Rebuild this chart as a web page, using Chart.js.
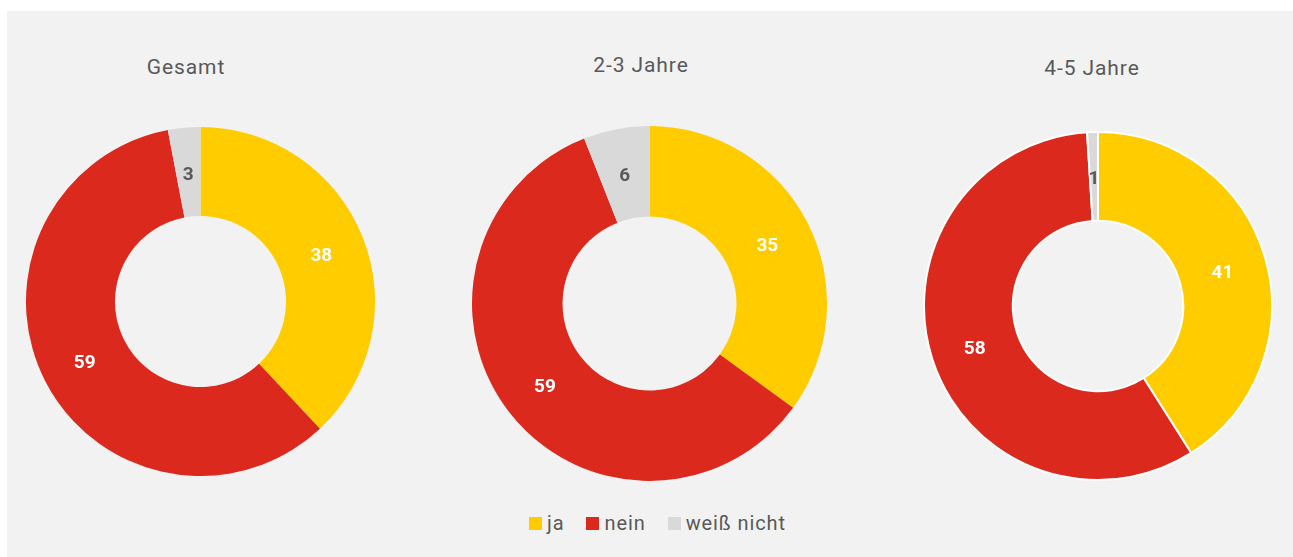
<!DOCTYPE html>
<html lang="de">
<head>
<meta charset="utf-8">
<script src="https://cdn.jsdelivr.net/npm/chart.js@4"></script>
<style>
  html, body { margin: 0; padding: 0; background: #fff; }
  body { width: 1293px; height: 557px; position: relative; overflow: hidden; font-family: Roboto, "Open Sans", sans-serif; }
  #panel { position: absolute; left: 7px; top: 11px; right: 0; bottom: 0; background: #f2f2f2; }
  .pie { position: absolute; }
  .title { position: absolute; width: 300px; margin-left: -150px; text-align: center; font-size: 21px; letter-spacing: 0.9px; color: #595959; line-height: 24px; }
  #legend { position: absolute; left: 529px; top: 511px; display: flex; align-items: center; font-size: 20px; letter-spacing: 0.9px; color: #595959; }
  #legend span.box { display: inline-block; width: 13px; height: 13px; margin-right: 5px; }
  #legend span.item { display: flex; align-items: center; margin-right: 22px; }
</style>
</head>
<body>
<div id="panel"></div>
<div id="legend"></div>

<script>
const categories = ['ja', 'nein', 'weiß nicht'];
const colors = ['#ffcc00', '#dc291e', '#d9d9d9'];
const groups = ['Gesamt', '2-3 Jahre', '4-5 Jahre'];
const gesamt = [38, 59, 3];
const jahre23 = [35, 59, 6];
const jahre45 = [41, 58, 1];

// box = square holding the doughnut, title = centre of the heading
const layouts = [
  { values: gesamt,  box: [26, 127, 349],  title: [186, 55], border: 0 },
  { values: jahre23, box: [472, 126, 355], title: [641, 53], border: 0 },
  { values: jahre45, box: [923, 131, 350], title: [1092, 56], border: 2 }
];

// value labels in the middle of each slice
const sliceLabels = {
  id: 'sliceLabels',
  afterDatasetsDraw(chart) {
    const ctx = chart.ctx;
    const meta = chart.getDatasetMeta(0);
    const data = chart.data.datasets[0].data;
    ctx.save();
    ctx.font = 'bold 19px Roboto, "Open Sans", sans-serif';
    ctx.textAlign = 'center';
    ctx.textBaseline = 'middle';
    meta.data.forEach((arc, i) => {
      const p = arc.tooltipPosition();
      ctx.fillStyle = i === 2 ? '#595959' : '#ffffff';
      ctx.fillText(String(data[i]), p.x, p.y + 3);
    });
    ctx.restore();
  }
};

layouts.forEach((l, idx) => {
  const wrap = document.createElement('div');
  wrap.className = 'pie';
  wrap.style.left = l.box[0] + 'px';
  wrap.style.top = l.box[1] + 'px';
  wrap.style.width = l.box[2] + 'px';
  wrap.style.height = l.box[2] + 'px';
  const canvas = document.createElement('canvas');
  wrap.appendChild(canvas);
  document.body.appendChild(wrap);

  const title = document.createElement('div');
  title.className = 'title';
  title.style.left = l.title[0] + 'px';
  title.style.top = l.title[1] + 'px';
  title.textContent = groups[idx];
  document.body.appendChild(title);

  new Chart(canvas.getContext('2d'), {
    type: 'doughnut',
    data: {
      labels: categories,
      datasets: [{
        data: l.values,
        backgroundColor: colors,
        borderColor: '#ffffff',
        borderWidth: l.border
      }]
    },
    options: {
      responsive: true,
      maintainAspectRatio: false,
      animation: false,
      cutout: '49%',
      layout: { padding: 0 },
      plugins: {
        legend: { display: false },
        tooltip: { enabled: false }
      }
    },
    plugins: [sliceLabels]
  });
});

// shared legend below the charts
const legend = document.getElementById('legend');
categories.forEach((c, i) => {
  const item = document.createElement('span');
  item.className = 'item';
  const box = document.createElement('span');
  box.className = 'box';
  box.style.background = colors[i];
  item.appendChild(box);
  item.appendChild(document.createTextNode(c));
  legend.appendChild(item);
});
</script>
</body>
</html>
